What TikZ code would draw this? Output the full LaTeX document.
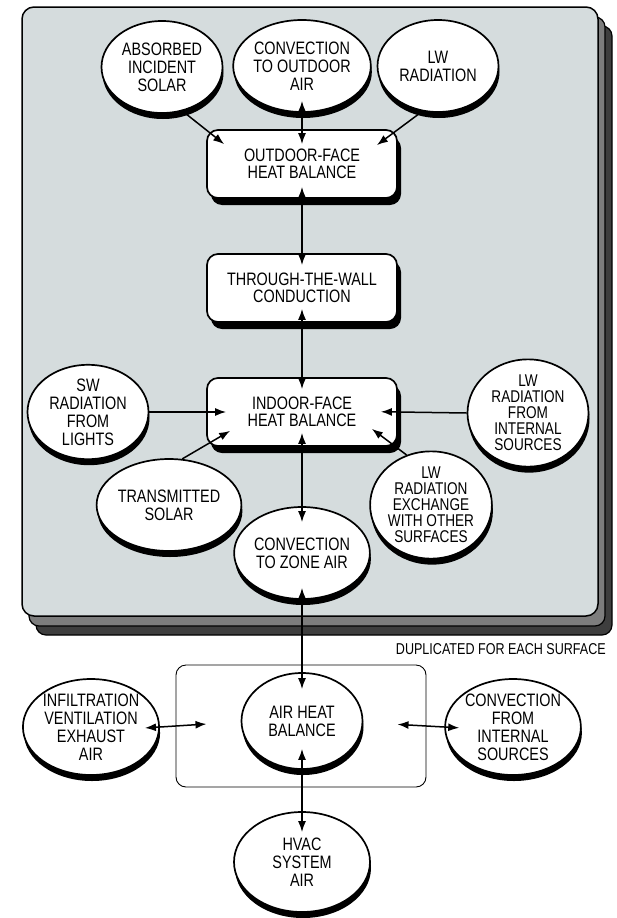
\documentclass[tikz,border=0pt]{standalone}
\usepackage{fontspec}
\setmainfont{Liberation Sans}[FakeStretch=0.8]
\usetikzlibrary{shapes.geometric,shadows,arrows.meta,calc}
\definecolor{panelgray}{RGB}{213,220,221}
\definecolor{stackmid}{RGB}{125,125,125}
\definecolor{stackdark}{RGB}{62,62,62}

\begin{document}
\begin{tikzpicture}[x=1pt,y=-1pt]
\tikzstyle{every node}+=[inner sep=0pt]
\tikzstyle{disc}=[draw=black, line width=1.7pt, fill=white, ellipse, minimum width=121pt, minimum height=92pt, align=center, font=\fontsize{18}{18}\selectfont, drop shadow={shadow xshift=1pt, shadow yshift=-6pt, opacity=1, fill=black}]
\tikzstyle{tight}=[font=\fontsize{17}{16}\selectfont]
\tikzstyle{facebox}=[draw=black, line width=1.7pt, fill=white, rounded corners=11pt, minimum width=190pt, minimum height=68pt, align=center, font=\fontsize{18}{17.5}\selectfont, drop shadow={shadow xshift=4pt, shadow yshift=-7pt, opacity=1, fill=black}]
\tikzstyle{flow}=[black, line width=1.5pt, -{Latex[length=11pt,width=8pt]}]
\tikzstyle{both}=[black, line width=1.5pt, {Latex[length=11pt,width=8pt]}-{Latex[length=11pt,width=8pt]}]
\useasboundingbox (0,0) rectangle (617,918);
\draw [black, line width=1.2pt, fill=stackdark, rounded corners=10pt] (36,26) rectangle (612,635);
\draw [black, line width=1.2pt, fill=stackmid, rounded corners=10pt] (29,17) rectangle (605,626);
\draw [black, line width=1.5pt, fill=panelgray, rounded corners=12pt] (22,7) rectangle (598,616);
\node [disc] (absorbed) at (162,67) {ABSORBED\\INCIDENT\\SOLAR};
\node [disc] (convout) at (302,66) {CONVECTION\\TO OUTDOOR\\AIR};
\node [disc] (lwrad) at (438,66) {LW\\RADIATION};
\node [facebox] (outbox) at (302,164) {OUTDOOR-FACE\\HEAT BALANCE};
\node [facebox] (thrubox) at (302,288) {THROUGH-THE-WALL\\CONDUCTION};
\node [facebox] (inbox) at (302,412) {INDOOR-FACE\\HEAT BALANCE};
\node [disc] (swlights) at (88,412) {SW\\RADIATION\\FROM\\LIGHTS};
\node [disc] (transsolar) at (169,505) {TRANSMITTED\\SOLAR};
\node [disc, tight] (lwint) at (528,413) {LW\\RADIATION\\FROM\\INTERNAL\\SOURCES};
\node [disc, tight] (lwexch) at (431,505) {LW\\RADIATION\\EXCHANGE\\WITH OTHER\\SURFACES};
\node [disc] (convzone) at (302,553) {CONVECTION\\TO ZONE AIR};
\node [anchor=east, font=\fontsize{15.7}{16}\selectfont] (dupl) at (606,649) {DUPLICATED FOR EACH SURFACE};
\node [draw=black, line width=0.9pt, rounded corners=10pt, minimum width=250pt, minimum height=122pt] (airbox) at (301,726) {};
\node [disc, minimum height=96pt] (airheat) at (302,721) {AIR HEAT\\BALANCE};
\node [disc, minimum width=132pt, minimum height=96pt] (infil) at (91,727) {INFILTRATION\\VENTILATION\\EXHAUST\\AIR};
\node [disc, minimum width=133pt, minimum height=96pt] (convint) at (513,727) {CONVECTION\\FROM\\INTERNAL\\SOURCES};
\node [disc, minimum width=136pt, minimum height=100pt] (hvac) at (302,862) {HVAC\\SYSTEM\\AIR};
\draw [both, shorten <=-12pt, shorten >=-15pt] (convout.south) -- (outbox.north);
\draw [both, shorten <=-12pt, shorten >=-12pt] (outbox.south) -- (thrubox.north);
\draw [both, shorten <=-14pt, shorten >=-12pt] (thrubox.south) -- (inbox.north);
\draw [both, shorten <=-14pt, shorten >=-16pt] (inbox.south) -- (convzone.north);
\draw [both, shorten <=-12pt, shorten >=-17pt] (convzone.south) -- (airheat.north);
\draw [both, shorten <=-21pt, shorten >=-21pt] (airheat.south) -- (hvac.north);
\draw [both, shorten <=-15pt, shorten >=-31pt] (infil.east) -- (airbox.west);
\draw [both, shorten <=-29pt, shorten >=-15pt] (airbox.east) -- (convint.west);
\draw [flow] (absorbed.-65) -- ($(outbox.north west)+(18,15)$);
\draw [flow] (lwrad.-109) -- ($(outbox.north east)+(-21,16)$);
\draw [flow, shorten >=-20pt] (swlights.east) -- (inbox.west);
\draw [flow, shorten >=-17pt] (lwint.west) -- (inbox.east);
\draw [flow] (transsolar.74) -- ($(inbox.south west)+(24,-16)$);
\draw [flow] (lwexch.116) -- ($(inbox.south east)+(-26,-18)$);
\end{tikzpicture}
\end{document}
